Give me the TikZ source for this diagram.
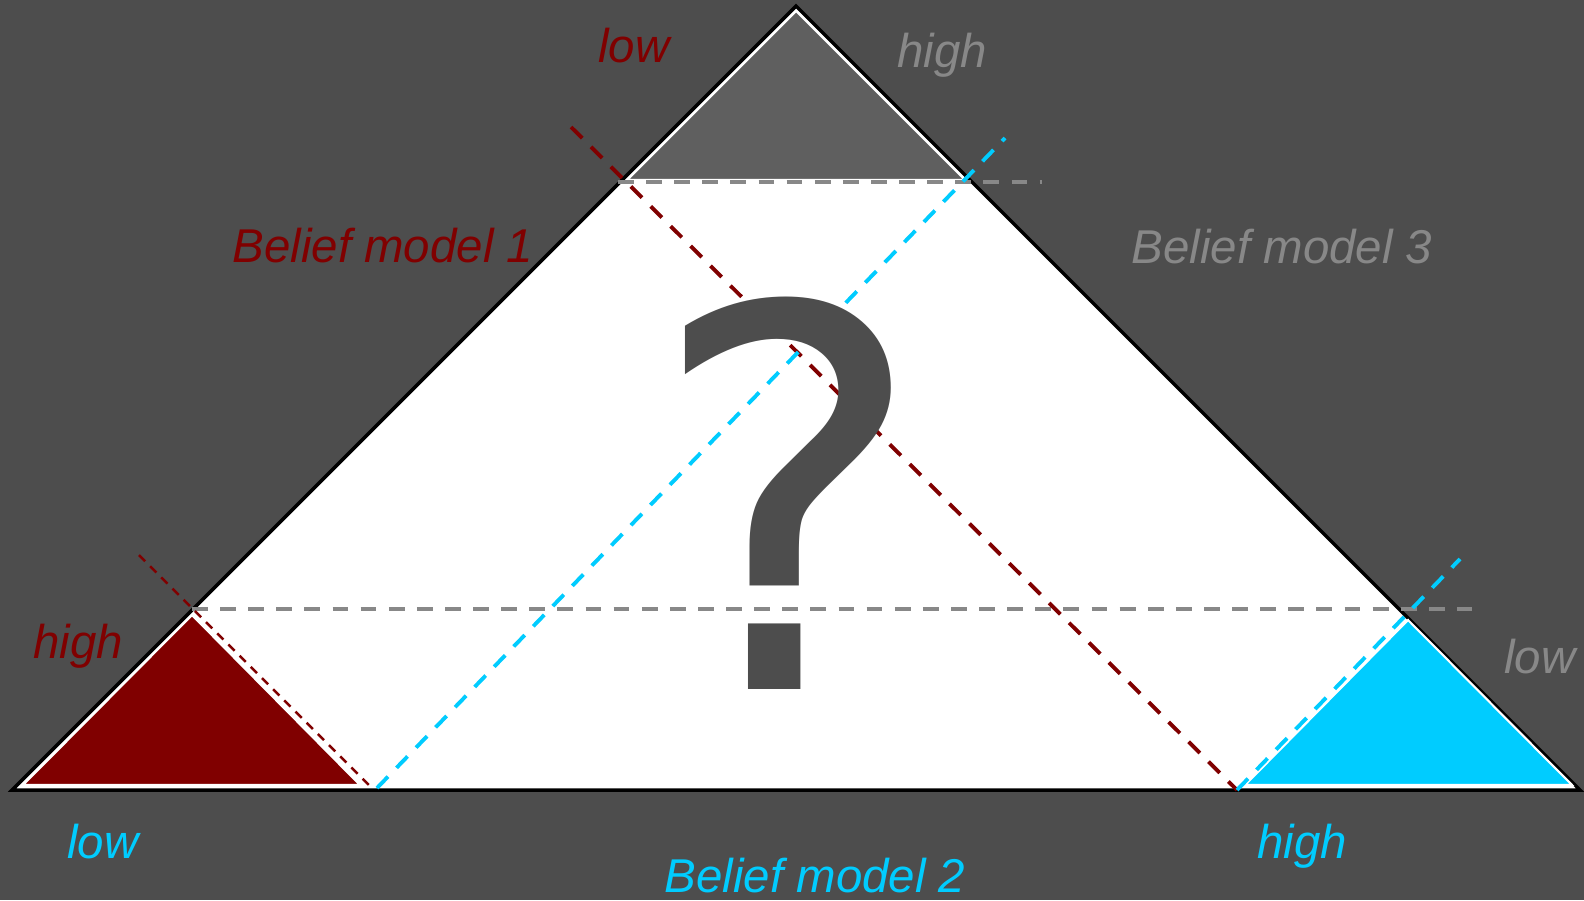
\documentclass[tikz,border=0pt]{standalone}
\usepackage{fontspec}
\setmainfont{Liberation Sans}
\newfontfamily\qfont{DejaVu Sans}
\usepackage{xcolor}
\usepackage{tikz}

\definecolor{bgdark}{HTML}{4D4D4D}
\definecolor{darkred}{HTML}{800000}
\definecolor{skyblue}{HTML}{00CCFF}
\definecolor{midgray}{HTML}{888888}
\definecolor{trigray}{HTML}{5F5F5F}

\begin{document}
\begin{tikzpicture}[
  x=0.02cm, y=-0.02cm,
  lbl/.style={font=\fontsize{27}{32}\selectfont\itshape, anchor=base, inner sep=0pt},
  corner/.style={draw=white, line width=1.2pt, line join=miter},
  gdash/.style={midgray, line width=2.2pt, dash pattern=on 9pt off 7pt},
  rdash/.style={darkred, line width=2.2pt, dash pattern=on 9pt off 7pt},
  rthin/.style={darkred, line width=1.4pt, dash pattern=on 5pt off 4pt},
  cdash/.style={skyblue, line width=2.2pt, dash pattern=on 9pt off 7pt},
]
\fill[bgdark] (0,0) rectangle (1584,900);
\useasboundingbox (0,0) rectangle (1584,900);

% simplex
\coordinate (L) at (12,790);
\coordinate (R) at (1580,790);
\coordinate (T) at (796,6);
\draw[fill=white, line width=2pt, line join=miter] (L) -- (R) -- (T) -- cycle;

% corner regions
\draw[corner, fill=trigray] (796,11) -- (965,180) -- (627,180) -- cycle;
\draw[corner, fill=darkred] (192,615) -- (360,785) -- (23,785) -- cycle;
\draw[corner, fill=skyblue] (1408,620) -- (1572,785) -- (1245,785) -- cycle;

% thresholds
\coordinate (g1a) at (618,182);  \coordinate (g1b) at (1042,182);
\coordinate (g2a) at (192,609);  \coordinate (g2b) at (1472,609);
\draw[gdash] (g1a) -- (g1b);
\draw[gdash] (g2a) -- (g2b);

\coordinate (r1a) at (571,127);  \coordinate (r1b) at (1237,790);
\coordinate (r2a) at (139,555);  \coordinate (r2b) at (372,788);
\draw[rdash] (r1a) -- (r1b);
\draw[rthin] (r2a) -- (r2b);

\coordinate (c1a) at (377,788);  \coordinate (c1b) at (1005,138);
\coordinate (c2a) at (1237,790); \coordinate (c2b) at (1460,559);
\draw[cdash] (c1a) -- (c1b);
\draw[cdash] (c2a) -- (c2b);

\node[font=\qfont\fontsize{301}{301}\selectfont, text=bgdark, anchor=base, inner sep=0pt]
  (qmark) at (788,689) {?};

% labels
\node[lbl, darkred] (lowA) at (634,62) {low};
\node[lbl, midgray] (highC) at (942,67) {high};
\node[lbl, darkred] (bmA) at (383,262) {Belief model 1};
\node[lbl, midgray] (bmC) at (1282,263) {Belief model 3};
\node[lbl, darkred] (highA) at (78,658) {high};
\node[lbl, midgray] (lowC) at (1540,673) {low};
\node[lbl, skyblue] (lowB) at (103,858) {low};
\node[lbl, skyblue] (highB) at (1302,858) {high};
\node[lbl, skyblue] (bmB) at (815,892) {Belief model 2};
\end{tikzpicture}
\end{document}
